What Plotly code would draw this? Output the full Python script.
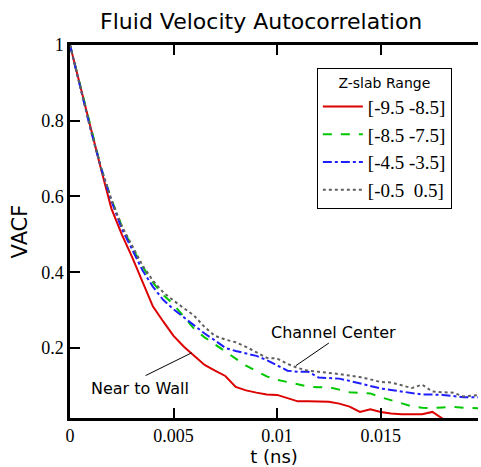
import plotly.graph_objects as go

t = [0, 0.0005, 0.001, 0.0015, 0.002, 0.0025, 0.003, 0.0035, 0.004, 0.0045,
     0.005, 0.0055, 0.006, 0.0065, 0.007, 0.0075, 0.008, 0.0085, 0.009, 0.0095,
     0.01, 0.0105, 0.011, 0.0115, 0.012, 0.0125, 0.013, 0.0135, 0.014, 0.0145,
     0.015, 0.0155, 0.016, 0.0165, 0.017, 0.0175, 0.018, 0.0185, 0.019, 0.0197]

red = [1.0, 0.89, 0.775, 0.672, 0.568, 0.50, 0.44, 0.375, 0.31, 0.27,
       0.232, 0.203, 0.178, 0.155, 0.14, 0.126, 0.097, 0.088, 0.082, 0.077,
       0.076, 0.068, 0.059, 0.059, 0.059, 0.058, 0.053, 0.045, 0.031, 0.038,
       0.031, 0.027, 0.025, 0.025, 0.025, 0.031, 0.013, 0.012, 0.011, 0.010]

green = [1.0, 0.89, 0.778, 0.676, 0.592, 0.522, 0.466, 0.415, 0.373, 0.34,
         0.315, 0.283, 0.25, 0.228, 0.21, 0.19, 0.172, 0.153, 0.138, 0.125,
         0.116, 0.11, 0.105, 0.098, 0.096, 0.096, 0.09, 0.083, 0.081, 0.08,
         0.07, 0.062, 0.053, 0.046, 0.042, 0.041, 0.043, 0.044, 0.042, 0.041]

blue = [1.0, 0.89, 0.776, 0.675, 0.588, 0.515, 0.458, 0.405, 0.362, 0.327,
        0.302, 0.28, 0.258, 0.238, 0.22, 0.2, 0.192, 0.185, 0.179, 0.168,
        0.155, 0.14, 0.137, 0.137, 0.122, 0.121, 0.119, 0.113, 0.106, 0.10,
        0.093, 0.089, 0.085, 0.081, 0.077, 0.077, 0.076, 0.073, 0.07, 0.07]

gray = [1.0, 0.89, 0.776, 0.675, 0.592, 0.522, 0.468, 0.418, 0.378, 0.347,
        0.325, 0.305, 0.285, 0.255, 0.232, 0.222, 0.215, 0.203, 0.188, 0.174,
        0.172, 0.158, 0.147, 0.14, 0.137, 0.135, 0.131, 0.127, 0.123, 0.117,
        0.11, 0.109, 0.102, 0.094, 0.103, 0.085, 0.083, 0.082, 0.072, 0.075]

names = ["[-9.5 -8.5]", "[-8.5 -7.5]", "[-4.5 -3.5]", "[-0.5\u00a0 0.5]"]
colors = ["#dd0000", "#00c800", "#1e1eff", "#606060"]
dashes = ["solid", "dash", "dashdot", "dot"]
widths = [2, 2, 2, 2]
series = [red, green, blue, gray]

x_range = [0, 0.0197]
y_range = [0.015, 1.0]
x_tickvals = [0, 0.005, 0.01, 0.015]
x_ticktext = ["0", "0.005", "0.01", "0.015"]
x_minor = [0.001, 0.002, 0.003, 0.004, 0.006, 0.007, 0.008, 0.009,
           0.011, 0.012, 0.013, 0.014, 0.016, 0.017, 0.018]
y_tickvals = [0.2, 0.4, 0.6, 0.8, 1.0]
y_ticktext = ["0.2", "0.4", "0.6", "0.8", "1"]
y_minor = [0.05, 0.1, 0.15, 0.25, 0.3, 0.35, 0.45, 0.5, 0.55,
           0.65, 0.7, 0.75, 0.85, 0.9, 0.95]

fig = go.Figure()
for n, c, d, w, s in zip(names, colors, dashes, widths, series):
    fig.add_trace(go.Scatter(x=t, y=s, mode="lines", name=n,
                             line=dict(color=c, dash=d, width=w)))

sans = "DejaVu Sans"
serif = "Liberation Serif"

fig.update_layout(
    width=481, height=467,
    margin=dict(l=70, r=3, t=45, b=44),
    plot_bgcolor="white", paper_bgcolor="white",
    title=dict(text="Fluid Velocity Autocorrelation", x=0.543, xanchor="center",
               y=0.955, yanchor="middle", font=dict(family=sans, size=22, color="black")),
    legend=dict(x=0.605, y=0.937, xanchor="left", yanchor="top",
                bgcolor="white", bordercolor="black", borderwidth=1,
                itemwidth=40,
                font=dict(family=serif, size=19, color="black"),
                title=dict(text="Z-slab Range", side="top center",
                           font=dict(family=sans, size=14, color="black")),
                tracegroupgap=0),
    xaxis=dict(range=x_range, tickvals=x_tickvals, ticktext=x_ticktext,
               ticks="inside", ticklen=10, tickwidth=2, tickcolor="black",
               showline=True, linecolor="black", linewidth=2.5, mirror="allticks",
               showgrid=False, zeroline=False,
               tickfont=dict(family=serif, size=18, color="black"),
               title=dict(text="t (ns)", font=dict(family=sans, size=18, color="black"),
                          standoff=5)),
    yaxis=dict(range=y_range, tickvals=y_tickvals, ticktext=y_ticktext,
               ticks="inside", ticklen=10, tickwidth=2, tickcolor="black",
               showline=True, linecolor="black", linewidth=2.5,
               showgrid=False, zeroline=False,
               tickfont=dict(family=serif, size=18, color="black"),
               title=dict(text="VACF", font=dict(family=sans, size=21, color="black"),
                          standoff=8)),
    xaxis2=dict(overlaying="x", anchor="y", side="bottom", range=x_range,
                tickvals=x_minor, showticklabels=False,
                ticks="inside", ticklen=6, tickwidth=1.2, tickcolor="black",
                showline=True, linecolor="black", linewidth=2.5, mirror="allticks",
                showgrid=False, zeroline=False),
    yaxis2=dict(overlaying="y", anchor="x", side="left", range=y_range,
                tickvals=y_minor, showticklabels=False,
                ticks="inside", ticklen=6, tickwidth=1.2, tickcolor="black",
                showline=True, linecolor="black", linewidth=2.5,
                showgrid=False, zeroline=False),
)

fig.add_shape(type="line", xref="x", yref="y", x0=0.00365, y0=0.127, x1=0.00587, y1=0.187,
              line=dict(color="black", width=1))
fig.add_shape(type="line", xref="x", yref="y", x0=0.0125, y0=0.213, x1=0.0109, y1=0.153,
              line=dict(color="black", width=1))
fig.add_annotation(x=0.00337, y=0.093, xref="x", yref="y", text="Near to Wall",
                   showarrow=False, font=dict(family=sans, size=16, color="black"))
fig.add_annotation(x=0.01274, y=0.242, xref="x", yref="y", text="Channel Center",
                   showarrow=False, font=dict(family=sans, size=16, color="black"))

fig.write_html("out.html")
